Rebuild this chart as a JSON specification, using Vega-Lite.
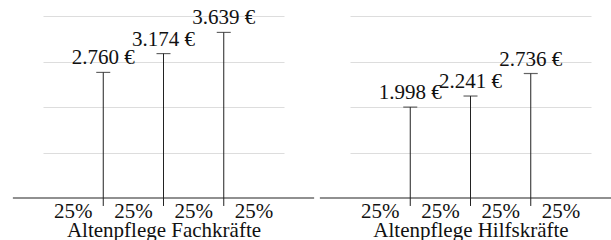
{
  "$schema": "https://vega.github.io/schema/vega-lite/v6.json",
  "background": "white",
  "padding": {"left": 12, "top": 7, "right": 0, "bottom": 0},
  "bounds": "flush",
  "spacing": 66,
  "config": {
    "view": {"stroke": null},
    "font": "Liberation Serif, Times New Roman, serif",
    "text": {"font": "Liberation Serif, Times New Roman, serif", "fontSize": 21, "color": "#111"}
  },
  "datasets": {
    "wages": [
      {"group": "Altenpflege Fachkräfte", "q": 1, "value": 2760, "label": "2.760 €"},
      {"group": "Altenpflege Fachkräfte", "q": 2, "value": 3174, "label": "3.174 €"},
      {"group": "Altenpflege Fachkräfte", "q": 3, "value": 3639, "label": "3.639 €"},
      {"group": "Altenpflege Hilfskräfte", "q": 1, "value": 1998, "label": "1.998 €"},
      {"group": "Altenpflege Hilfskräfte", "q": 2, "value": 2241, "label": "2.241 €"},
      {"group": "Altenpflege Hilfskräfte", "q": 3, "value": 2736, "label": "2.736 €"}
    ],
    "shares": [
      {"pos": 0.5, "share": "25%"},
      {"pos": 1.5, "share": "25%"},
      {"pos": 2.5, "share": "25%"},
      {"pos": 3.5, "share": "25%"}
    ]
  },
  "hconcat": [
    {
      "width": 241,
      "height": 182,
      "data": {"name": "wages"},
      "transform": [{"filter": "datum.group === 'Altenpflege Fachkräfte'"}],
      "layer": [
        {
          "mark": {"type": "rule", "color": "#222", "strokeWidth": 1},
          "encoding": {
            "x": {"field": "q", "type": "quantitative", "scale": {"domain": [0, 4], "nice": false},
              "axis": {"title": "Altenpflege Fachkräfte", "labels": false, "ticks": false, "domain": false, "grid": false,
                "titleFont": "Liberation Serif, Times New Roman, serif", "titleFontSize": 21, "titleFontWeight": "normal", "titleColor": "#111",
                "titleBaseline": "alphabetic", "titleY": 38}},
            "y": {"field": "value", "type": "quantitative", "scale": {"domain": [0, 4000], "nice": false},
              "axis": {"title": null, "labels": false, "ticks": false, "domain": false, "grid": true,
                "values": [1000, 2000, 3000, 4000], "gridColor": "#dddddd", "gridWidth": 1}},
            "y2": {"datum": -175}
          }
        },
        {
          "mark": {"type": "tick", "orient": "horizontal", "size": 14, "thickness": 1.2, "color": "#222"},
          "encoding": {
            "x": {"field": "q", "type": "quantitative"},
            "y": {"field": "value", "type": "quantitative"}
          }
        },
        {
          "mark": {"type": "text", "baseline": "alphabetic", "dy": -8, "font": "Liberation Serif, Times New Roman, serif"},
          "encoding": {
            "x": {"field": "q", "type": "quantitative"},
            "y": {"field": "value", "type": "quantitative"},
            "text": {"field": "label"}
          }
        },
        {
          "transform": [{"aggregate": [{"op": "count", "as": "n"}]}],
          "mark": {"type": "rule", "color": "#222", "strokeWidth": 1.2},
          "encoding": {
            "x": {"datum": -0.5, "type": "quantitative"},
            "x2": {"datum": 4.5},
            "y": {"datum": 0, "type": "quantitative"}
          }
        },
        {
          "data": {"name": "shares"},
          "mark": {"type": "text", "baseline": "alphabetic", "dy": 20, "font": "Liberation Serif, Times New Roman, serif"},
          "encoding": {
            "x": {"field": "pos", "type": "quantitative"},
            "y": {"datum": 0, "type": "quantitative"},
            "text": {"field": "share"}
          }
        }
      ]
    },
    {
      "width": 241,
      "height": 182,
      "data": {"name": "wages"},
      "transform": [{"filter": "datum.group === 'Altenpflege Hilfskräfte'"}],
      "layer": [
        {
          "mark": {"type": "rule", "color": "#222", "strokeWidth": 1},
          "encoding": {
            "x": {"field": "q", "type": "quantitative", "scale": {"domain": [0, 4], "nice": false},
              "axis": {"title": "Altenpflege Hilfskräfte", "labels": false, "ticks": false, "domain": false, "grid": false,
                "titleFont": "Liberation Serif, Times New Roman, serif", "titleFontSize": 21, "titleFontWeight": "normal", "titleColor": "#111",
                "titleBaseline": "alphabetic", "titleY": 38}},
            "y": {"field": "value", "type": "quantitative", "scale": {"domain": [0, 4000], "nice": false},
              "axis": {"title": null, "labels": false, "ticks": false, "domain": false, "grid": true,
                "values": [1000, 2000, 3000, 4000], "gridColor": "#dddddd", "gridWidth": 1}},
            "y2": {"datum": -175}
          }
        },
        {
          "mark": {"type": "tick", "orient": "horizontal", "size": 14, "thickness": 1.2, "color": "#222"},
          "encoding": {
            "x": {"field": "q", "type": "quantitative"},
            "y": {"field": "value", "type": "quantitative"}
          }
        },
        {
          "mark": {"type": "text", "baseline": "alphabetic", "dy": -8, "font": "Liberation Serif, Times New Roman, serif"},
          "encoding": {
            "x": {"field": "q", "type": "quantitative"},
            "y": {"field": "value", "type": "quantitative"},
            "text": {"field": "label"}
          }
        },
        {
          "transform": [{"aggregate": [{"op": "count", "as": "n"}]}],
          "mark": {"type": "rule", "color": "#222", "strokeWidth": 1.2},
          "encoding": {
            "x": {"datum": -0.5, "type": "quantitative"},
            "x2": {"datum": 4.5},
            "y": {"datum": 0, "type": "quantitative"}
          }
        },
        {
          "data": {"name": "shares"},
          "mark": {"type": "text", "baseline": "alphabetic", "dy": 20, "font": "Liberation Serif, Times New Roman, serif"},
          "encoding": {
            "x": {"field": "pos", "type": "quantitative"},
            "y": {"datum": 0, "type": "quantitative"},
            "text": {"field": "share"}
          }
        }
      ]
    }
  ]
}
